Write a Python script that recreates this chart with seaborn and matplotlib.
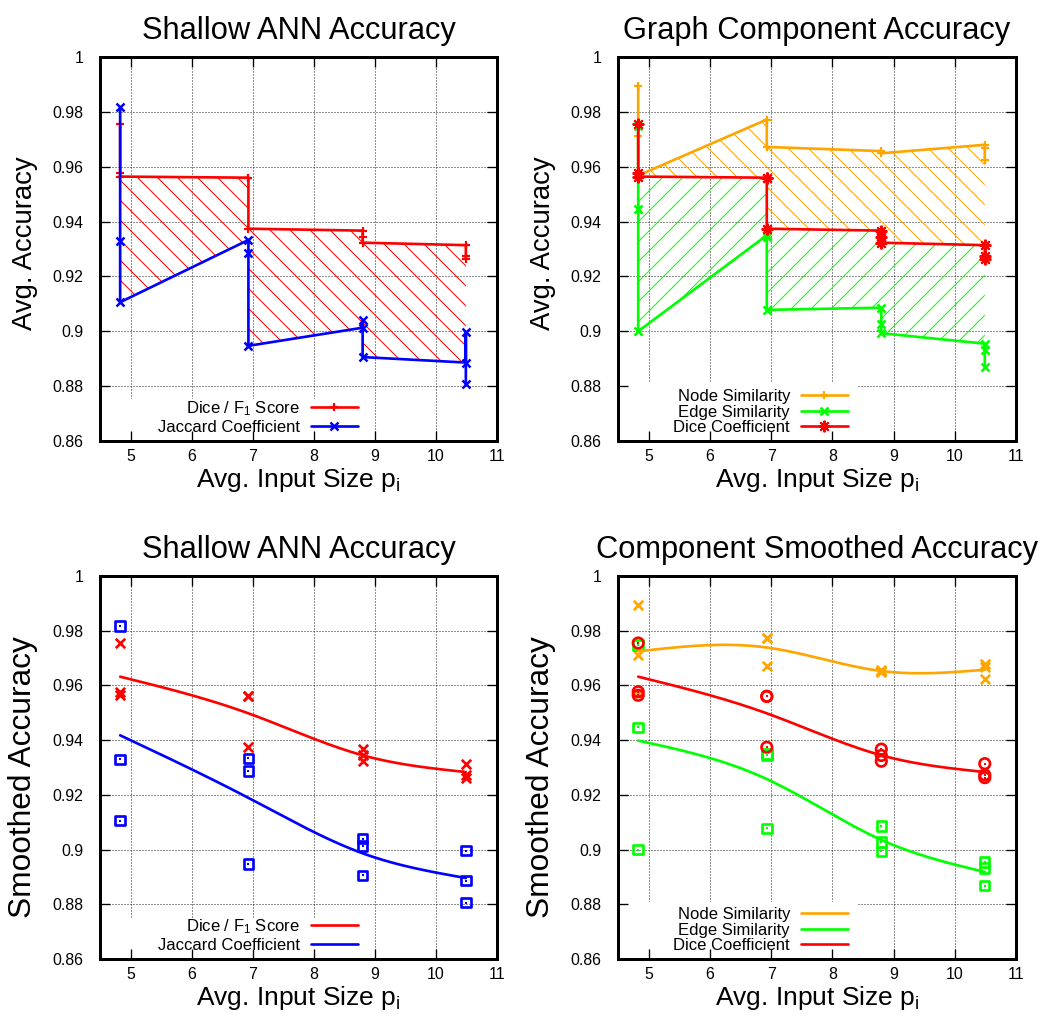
import numpy as np
import pandas as pd
import matplotlib
matplotlib.use("Agg")
import matplotlib.pyplot as plt
import seaborn as sns
from matplotlib.patches import Rectangle

# ---- measurements: average input size and per-run accuracies ----
input_size = [4.83, 4.83, 4.83, 6.93, 6.93, 6.93,
              8.80, 8.80, 8.80, 10.49, 10.49, 10.49]

dice_f1 = [0.9755, 0.9577, 0.9564, 0.9560, 0.9560, 0.9374,
           0.9367, 0.9344, 0.9323, 0.9314, 0.9273, 0.9263]
jaccard = [0.9817, 0.9330, 0.9106, 0.9333, 0.9287, 0.8947,
           0.9013, 0.9040, 0.8906, 0.8886, 0.8996, 0.8806]
node_sim = [0.9893, 0.9713, 0.9568, 0.9772, 0.9772, 0.9672,
            0.9657, 0.9652, 0.9649, 0.9680, 0.9667, 0.9625]
edge_sim = [0.9748, 0.9447, 0.9000, 0.9350, 0.9345, 0.9078,
            0.9086, 0.9027, 0.8993, 0.8955, 0.8932, 0.8868]

x_ticks = [5, 6, 7, 8, 9, 10, 11]
y_ticks = [0.86, 0.88, 0.90, 0.92, 0.94, 0.96, 0.98, 1.00]
y_tick_labels = ["0.86", "0.88", "0.9", "0.92", "0.94", "0.96", "0.98", "1"]

RED, BLUE, ORANGE, GREEN = "#ff0000", "#0000ff", "#ffa500", "#00ff00"

df = pd.DataFrame({"size": input_size, "dice": dice_f1, "jaccard": jaccard,
                   "node": node_sim, "edge": edge_sim})

sns.set_theme(style="ticks")
plt.rcParams.update({
    "font.family": ["Liberation Sans", "DejaVu Sans"],
    "mathtext.fontset": "custom",
    "mathtext.rm": "Liberation Sans",
    "mathtext.it": "Liberation Sans:italic",
    "mathtext.default": "regular",
    "text.color": "black",
    "axes.labelcolor": "black",
    "axes.edgecolor": "black",
    "axes.linewidth": 1.8,
    "xtick.color": "black",
    "ytick.color": "black",
    "xtick.direction": "in",
    "ytick.direction": "in",
    "xtick.top": True,
    "ytick.right": True,
    "xtick.major.size": 6,
    "ytick.major.size": 6,
    "xtick.major.width": 0.8,
    "ytick.major.width": 0.8,
    "xtick.labelsize": 9.5,
    "ytick.labelsize": 9.5,
    "hatch.linewidth": 0.6,
})

W, H, DPI = 1051, 1019, 120
fig = plt.figure(figsize=(W / DPI, H / DPI), dpi=DPI)


def frame(px_left, px_top, px_right, px_bottom):
    return [px_left / W, 1 - px_bottom / H, (px_right - px_left) / W,
            (px_bottom - px_top) / H]


ax_tl = fig.add_axes(frame(100, 57, 497, 441))
ax_tr = fig.add_axes(frame(618, 57, 1016, 441))
ax_bl = fig.add_axes(frame(100, 576, 497, 959))
ax_br = fig.add_axes(frame(618, 576, 1016, 959))


def style_axes(ax, title, ylabel, ylabel_size, ylabel_y, key_w, key_h):
    ax.set_xlim(4.5, 11)
    ax.set_ylim(0.86, 1.0)
    ax.set_xticks(x_ticks)
    ax.set_yticks(y_ticks)
    ax.set_yticklabels(y_tick_labels)
    ax.tick_params(axis="x", pad=5)
    ax.tick_params(axis="y", pad=10)
    # dotted grid at the inner tick positions
    for xv in x_ticks[:-1]:
        ax.axvline(xv, color="#222222", lw=0.6, ls=(0, (1, 2)), zorder=0.3)
    for yv in y_ticks[1:-1]:
        ax.axhline(yv, color="#222222", lw=0.6, ls=(0, (1, 2)), zorder=0.3)
    # opaque key background
    ax.add_patch(Rectangle((0, 0), key_w, key_h, transform=ax.transAxes,
                           facecolor="white", edgecolor="none", zorder=0.4))
    ax.set_title(title, fontsize=18.5, pad=11)
    ax.set_xlabel(r"Avg. Input Size p$_{i}$", fontsize=15.8, labelpad=1)
    ax.set_ylabel(ylabel, fontsize=ylabel_size)
    ax.yaxis.set_label_coords(-0.157, ylabel_y)
    for s in ax.spines.values():
        s.set_zorder(3)


def key(ax, anchor_x, spacing):
    ax.legend(loc="lower right", bbox_to_anchor=(anchor_x, -0.006),
              frameon=False, markerfirst=False, fontsize=10, borderpad=0,
              handlelength=2.8, handletextpad=0.66, labelspacing=spacing)


def spline_curve(xs, ys, n=300):
    """Natural cubic spline through the mean value of each input size."""
    g = pd.DataFrame({"x": xs, "y": ys}).groupby("x", sort=True)["y"].mean()
    xk, yk = g.index.to_numpy(float), g.to_numpy(float)
    k = len(xk)
    h = np.diff(xk)
    A = np.zeros((k, k))
    r = np.zeros(k)
    A[0, 0] = A[-1, -1] = 1.0
    for i in range(1, k - 1):
        A[i, i - 1] = h[i - 1]
        A[i, i] = 2 * (h[i - 1] + h[i])
        A[i, i + 1] = h[i]
        r[i] = 6 * ((yk[i + 1] - yk[i]) / h[i] - (yk[i] - yk[i - 1]) / h[i - 1])
    M = np.linalg.solve(A, r)
    xs_f = np.linspace(xk[0], xk[-1], n)
    idx = np.clip(np.searchsorted(xk, xs_f) - 1, 0, k - 2)
    x0, x1, hi = xk[idx], xk[idx + 1], h[idx]
    ys_f = (M[idx] * (x1 - xs_f) ** 3 / (6 * hi)
            + M[idx + 1] * (xs_f - x0) ** 3 / (6 * hi)
            + (yk[idx] / hi - M[idx] * hi / 6) * (x1 - xs_f)
            + (yk[idx + 1] / hi - M[idx + 1] * hi / 6) * (xs_f - x0))
    return pd.DataFrame({"x": xs_f, "y": ys_f})


def band(ax, upper, lower, color, hatch):
    xs = np.asarray(input_size, float)
    px = np.concatenate([xs, xs[::-1]])
    py = np.concatenate([np.asarray(df[upper]), np.asarray(df[lower])[::-1]])
    ax.fill(px, py, facecolor="none", edgecolor=color, hatch=hatch,
            linewidth=0, zorder=1)


def connected(ax, col, color, marker, label, ms=5, mew=1.3):
    sns.lineplot(data=df, x="size", y=col, ax=ax, sort=False, estimator=None,
                 color=color, lw=1.6, marker=marker, markersize=ms,
                 markeredgewidth=mew, markeredgecolor=color, label=label,
                 zorder=2)


def scatter_box(ax, col, color, marker, s=32):
    sns.scatterplot(data=df, x="size", y=col, ax=ax, marker=marker, s=s,
                    facecolor="none", edgecolor=color, linewidth=1.6,
                    zorder=2.2, legend=False)
    sns.scatterplot(data=df, x="size", y=col, ax=ax, marker="s", s=2.5,
                    color=color, linewidth=0, zorder=2.3, legend=False)


def scatter_x(ax, col, color):
    sns.scatterplot(data=df, x="size", y=col, ax=ax, marker="x", s=32,
                    color=color, linewidth=1.6, zorder=2.2, legend=False)


def smooth(ax, col, color, label):
    sns.lineplot(data=spline_curve(input_size, df[col]), x="x", y="y", ax=ax,
                 color=color, lw=1.6, label=label, zorder=2.5)


# ---- top left: shallow ANN raw accuracy ----
band(ax_tl, "dice", "jaccard", RED, "\\\\")
connected(ax_tl, "dice", RED, "+", r"Dice / F$_1$ Score")
connected(ax_tl, "jaccard", BLUE, "x", "Jaccard Coefficient", ms=4.5, mew=1.5)
style_axes(ax_tl, "Shallow ANN Accuracy", "Avg. Accuracy", 16.5, 0.516,
           0.667, 0.109)
key(ax_tl, 0.670, 0.12)

# ---- top right: graph component raw accuracy ----
band(ax_tr, "node", "dice", ORANGE, "\\\\")
band(ax_tr, "dice", "edge", GREEN, "//")
connected(ax_tr, "node", ORANGE, "+", "Node Similarity")
connected(ax_tr, "edge", GREEN, "x", "Edge Similarity", ms=4.5, mew=1.5)
connected(ax_tr, "dice", RED, (8, 2, 0), "Dice Coefficient", ms=7, mew=1.2)
style_axes(ax_tr, "Graph Component Accuracy", "Avg. Accuracy", 16.5, 0.516,
           0.603, 0.154)
key(ax_tr, 0.598, 0.02)

# ---- bottom left: shallow ANN smoothed ----
scatter_x(ax_bl, "dice", RED)
scatter_box(ax_bl, "jaccard", BLUE, "s")
smooth(ax_bl, "dice", RED, r"Dice / F$_1$ Score")
smooth(ax_bl, "jaccard", BLUE, "Jaccard Coefficient")
style_axes(ax_bl, "Shallow ANN Accuracy", "Smoothed Accuracy", 19, 0.474,
           0.667, 0.107)
key(ax_bl, 0.670, 0.12)

# ---- bottom right: component smoothed ----
scatter_x(ax_br, "node", ORANGE)
scatter_box(ax_br, "edge", GREEN, "s")
scatter_box(ax_br, "dice", RED, "o", s=40)
smooth(ax_br, "node", ORANGE, "Node Similarity")
smooth(ax_br, "edge", GREEN, "Edge Similarity")
smooth(ax_br, "dice", RED, "Dice Coefficient")
style_axes(ax_br, "Component Smoothed Accuracy", "Smoothed Accuracy", 19, 0.474,
           0.603, 0.149)
key(ax_br, 0.598, 0.02)

fig.savefig("out.png", dpi=DPI)
